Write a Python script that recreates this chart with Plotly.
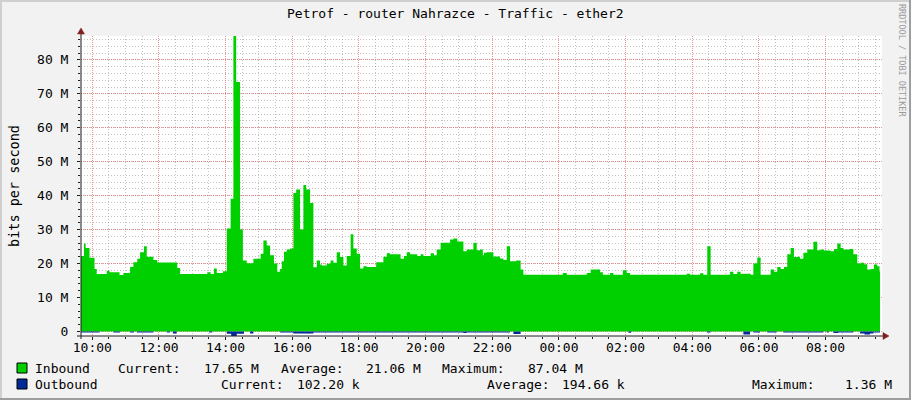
import plotly.graph_objects as go
from datetime import datetime, timedelta

# ---------------- data ----------------
title_text = "Petrof - router Nahrazce - Traffic - ether2"
y_tick_values_m = [0, 10, 20, 30, 40, 50, 60, 70, 80]
y_tick_labels = ["0", "10 M", "20 M", "30 M", "40 M", "50 M", "60 M", "70 M", "80 M"]

in_times = ["09:38","09:45","09:48","09:55","10:04","10:08","10:26","10:31","10:49","10:56",
            "11:08","11:14","11:21","11:26","11:33","11:38","11:50","11:57","12:33","12:38",
            "13:27","13:33","13:39","13:44","13:55","14:02","14:09","14:14","14:19","14:26",
            "14:31","14:38","14:50","15:03","15:08","15:14","15:20","15:27","15:33","15:38",
            "15:41","15:45","15:50","15:56","16:02","16:07","16:14","16:20","16:25","16:32",
            "16:38","16:44","16:50","16:53","17:02","17:09","17:14","17:20","17:26","17:32",
            "17:38","17:45","17:50","17:56","18:02","18:08","18:14","18:31","18:44","18:50",
            "18:56","19:15","19:21","19:26","19:32","19:45","19:51","19:56","20:09","20:15",
            "20:20","20:27","20:44","20:50","20:57","21:08","21:14","21:26","21:32","21:38",
            "21:43","21:45","21:50","22:02","22:14","22:20","22:26","22:32","22:43","22:51",
            "22:56","00:07","00:14","00:50","00:57","01:14","01:19","01:32","01:38","01:55",
            "02:02","02:08","03:50","03:56","04:14","04:20","04:27","04:33","05:08","05:14",
            "05:21","05:27","05:32","05:45","05:50","05:57","06:03","06:21","06:27","06:33",
            "06:39","06:45","06:51","06:57","07:03","07:09","07:14","07:20","07:27","07:38",
            "07:45","07:51","07:57","08:09","08:15","08:21","08:27","08:32","08:44","08:50",
            "08:57","09:03","09:09","09:15","09:21","09:27","09:33","09:37","09:38"]
in_values_m = [22.2,25.9,24.6,21.7,18.4,16.9,17.9,17.4,16.6,17.2,
               19.0,20.4,21.4,23.3,25.1,22.0,21.0,20.3,18.7,16.9,
               17.4,16.9,18.5,17.2,17.7,30.3,39.1,87.04,73.5,30.0,
               20.9,20.1,21.4,22.9,26.8,25.3,22.4,20.0,17.6,18.4,
               20.7,23.5,24.1,24.4,40.8,41.8,30.0,43.1,41.8,37.8,
               18.9,20.9,19.7,19.4,19.9,20.9,20.2,23.3,21.9,19.4,
               22.2,28.6,24.4,22.9,18.5,19.2,19.0,20.4,22.0,23.0,
               22.7,21.4,22.2,23.3,22.7,22.2,22.7,22.2,23.0,22.4,
               24.1,26.1,27.1,27.4,26.5,23.6,24.1,26.1,23.9,24.1,
               22.4,23.2,23.3,22.1,21.5,21.0,25.1,20.7,20.9,18.2,
               16.7,17.2,16.7,17.2,18.2,17.4,16.7,17.2,16.7,18.0,
               17.2,16.7,17.0,16.7,17.1,16.7,25.1,16.7,17.6,16.9,
               17.6,16.9,17.0,16.7,20.0,21.8,16.7,18.2,17.6,19.0,
               18.4,19.0,22.7,24.6,21.9,22.0,21.4,23.2,24.1,26.4,
               23.9,24.1,23.8,23.6,24.3,25.9,24.6,24.1,24.3,22.7,
               20.0,20.2,19.8,18.2,18.4,19.7,19.2,17.65,17.65]

out_times = ["09:38","10:13","10:38","10:50","11:08","11:15","11:20","11:50","12:14","12:20",
             "12:25","12:32","13:30","13:36","14:02","14:10","14:20","14:33","14:44","14:50",
             "15:38","16:02","16:38","21:08","21:14","22:32","22:38","22:51","02:05","02:10",
             "04:26","04:33","05:32","05:44","05:50","06:02","06:15","06:32","06:44","07:56",
             "08:02","08:06","08:14","08:23","08:50","09:02","09:10","09:20","09:26","09:38"]
out_values_m = [0.35,0.05,0.35,0.05,0.35,0.05,0.35,0.05,0.35,0.05,
                0.6,0.05,0.35,0.05,0.7,1.36,0.7,0.05,0.6,0.05,
                0.3,0.6,0.3,0.5,0.3,0.05,0.8,0.05,0.4,0.05,
                0.3,0.05,0.9,0.05,0.3,0.05,0.3,0.05,0.3,0.05,
                0.3,0.05,0.5,0.3,0.05,0.6,0.9,0.6,0.3,0.3]

legend_in = ["Inbound", "Current:", "17.65 M", "Average:", "21.06 M", "Maximum:", "87.04 M"]
legend_out = ["Outbound", "Current:", "102.20 k", "Average:", "194.66 k", "Maximum:", "1.36 M"]


def to_dt(times):
    base = datetime(2024, 1, 1)
    day, prev, res = 0, -1, []
    for t in times:
        h, m = map(int, t.split(":"))
        mins = h * 60 + m
        if mins < prev:
            day += 1
        prev = mins
        res.append(base + timedelta(days=day, minutes=mins))
    return res


in_x = to_dt(in_times)
in_y = [v * 1e6 for v in in_values_m]
out_x = to_dt(out_times)
out_y = [-v * 1e6 for v in out_values_m]

# ---------------- layout geometry (pixels) ----------------
W, H = 911, 400
L, R, T, B = 81, 882, 36, 336
FONT = "DejaVu Sans Mono"


def px(x):
    return (x - L) / (R - L)


def py(y):
    return (B - y) / (B - T)


GREEN = "#00CF00"
BLUE = "#002A97"

fig = go.Figure()
fig.add_trace(go.Scatter(x=in_x, y=in_y, mode="lines", line=dict(width=0, shape="hv", color=GREEN),
                         fill="tozeroy", fillcolor=GREEN, hoverinfo="skip", showlegend=False))
fig.add_trace(go.Scatter(x=out_x, y=out_y, mode="lines", line=dict(width=0, shape="hv", color=BLUE),
                         fill="tozeroy", fillcolor=BLUE, hoverinfo="skip", showlegend=False))

MGRID = "rgba(222,79,79,0.6)"
GRID = "rgba(143,143,143,0.55)"
AXIS = "#1F1F1F"
ARROW = "#801F1F"

fig.update_layout(
    width=W, height=H,
    margin=dict(l=L, r=W - R, t=T, b=H - B, pad=0),
    paper_bgcolor="#F2F2F2", plot_bgcolor="#FFFFFF",
    hovermode=False,
    font=dict(family=FONT, size=13, color="#000000"),
    xaxis=dict(
        type="date",
        range=["2024-01-01 09:39:40", "2024-01-02 09:41:30"],
        tickformat="%H:%M", tick0="2024-01-01 10:00", dtick=7200000,
        showgrid=True, gridcolor=MGRID, griddash="1px,1px", gridwidth=1,
        ticks="outside", ticklen=3, tickcolor=AXIS, tickwidth=1,
        showline=False, zeroline=False,
        ticklabelstandoff=-4,
        tickfont=dict(family=FONT, size=13, color="#000000"),
        minor=dict(tickmode="linear", tick0="2024-01-01 10:00", dtick=1800000,
                   showgrid=True, gridcolor=GRID, griddash="1px,2px", gridwidth=1,
                   ticks="outside", ticklen=2, tickcolor=AXIS),
        fixedrange=True,
    ),
    yaxis=dict(
        range=[-1.36e6, 87.04e6],
        tickmode="array", tickvals=[v * 1e6 for v in y_tick_values_m], ticktext=y_tick_labels,
        showgrid=True, gridcolor=MGRID, griddash="1px,1px", gridwidth=1,
        ticks="outside", ticklen=3, tickcolor=AXIS, tickwidth=1,
        showline=False, zeroline=False,
        ticklabelstandoff=6,
        tickfont=dict(family=FONT, size=13, color="#000000"),
        minor=dict(tickmode="linear", tick0=0, dtick=2e6,
                   showgrid=True, gridcolor=GRID, griddash="1px,2px", gridwidth=1,
                   ticks="outside", ticklen=2, tickcolor=AXIS),
        fixedrange=True,
    ),
)

shapes = []
# frame
shapes.append(dict(type="rect", xref="paper", yref="paper", x0=px(0), x1=px(W), y0=py(0), y1=py(2),
                   fillcolor="#CFCFCF", line=dict(width=0), layer="above"))
shapes.append(dict(type="rect", xref="paper", yref="paper", x0=px(0), x1=px(2), y0=py(0), y1=py(H),
                   fillcolor="#CFCFCF", line=dict(width=0), layer="above"))
shapes.append(dict(type="rect", xref="paper", yref="paper", x0=px(0), x1=px(W), y0=py(H - 2), y1=py(H),
                   fillcolor="#9E9E9E", line=dict(width=0), layer="above"))
shapes.append(dict(type="rect", xref="paper", yref="paper", x0=px(W - 2), x1=px(W), y0=py(0), y1=py(H),
                   fillcolor="#9E9E9E", line=dict(width=0), layer="above"))
# axes
shapes.append(dict(type="line", xref="paper", yref="paper", x0=px(77), x1=px(884), y0=py(B), y1=py(B),
                   line=dict(color=AXIS, width=1), layer="above"))
shapes.append(dict(type="line", xref="paper", yref="paper", x0=px(L), x1=px(L), y0=py(339), y1=py(32),
                   line=dict(color=AXIS, width=1), layer="above"))
# arrows
shapes.append(dict(type="path", xref="paper", yref="paper",
                   path=f"M {px(883)} {py(B - 3.5)} L {px(889)} {py(B)} L {px(883)} {py(B + 3.5)} Z",
                   fillcolor=ARROW, line=dict(color=ARROW, width=0.5), layer="above"))
shapes.append(dict(type="path", xref="paper", yref="paper",
                   path=f"M {px(L - 3.5)} {py(34)} L {px(L)} {py(28)} L {px(L + 3.5)} {py(34)} Z",
                   fillcolor=ARROW, line=dict(color=ARROW, width=0.5), layer="above"))
# legend boxes
shapes.append(dict(type="rect", xref="paper", yref="paper", x0=px(17), x1=px(27), y0=py(363), y1=py(373),
                   fillcolor=GREEN, line=dict(color="#000000", width=1), layer="above"))
shapes.append(dict(type="rect", xref="paper", yref="paper", x0=px(17), x1=px(27), y0=py(379), y1=py(389),
                   fillcolor=BLUE, line=dict(color="#000000", width=1), layer="above"))
fig.update_layout(shapes=shapes)

ann = []
ann.append(dict(text=title_text, x=px(455), y=py(13), xref="paper", yref="paper", showarrow=False,
                xanchor="center", yanchor="middle", font=dict(family=FONT, size=13, color="#000000")))
ann.append(dict(text="bits per second", x=px(14), y=py(186), xref="paper", yref="paper", showarrow=False,
                textangle=-90, xanchor="center", yanchor="middle",
                font=dict(family=FONT, size=13.5, color="#000000")))
ann.append(dict(text="RRDTOOL / TOBI OETIKER", x=px(902), y=py(60), xref="paper", yref="paper",
                showarrow=False, textangle=90, xanchor="center", yanchor="middle",
                font=dict(family=FONT, size=8.5, color="#9A9A9A")))

row1_pos = [(33, "left"), (116, "left"), (261, "right"), (279, "left"), (423, "right"), (440, "left"), (585, "right")]
row2_pos = [(33, "left"), (219, "left"), (362, "right"), (485, "left"), (627, "right"), (750, "left"), (894, "right")]
for texts, poss, yy in ((legend_in, row1_pos, 368), (legend_out, row2_pos, 384)):
    for t, (xx, anchor) in zip(texts, poss):
        ann.append(dict(text=t, x=px(xx), y=py(yy), xref="paper", yref="paper", showarrow=False,
                        xanchor=anchor, yanchor="middle",
                        font=dict(family=FONT, size=13, color="#000000")))
fig.update_layout(annotations=ann)

fig.write_html("out.html", config={"displayModeBar": False, "staticPlot": True},
               post_script="document.body.style.margin='0';document.body.style.padding='0';document.body.style.overflow='hidden';")
